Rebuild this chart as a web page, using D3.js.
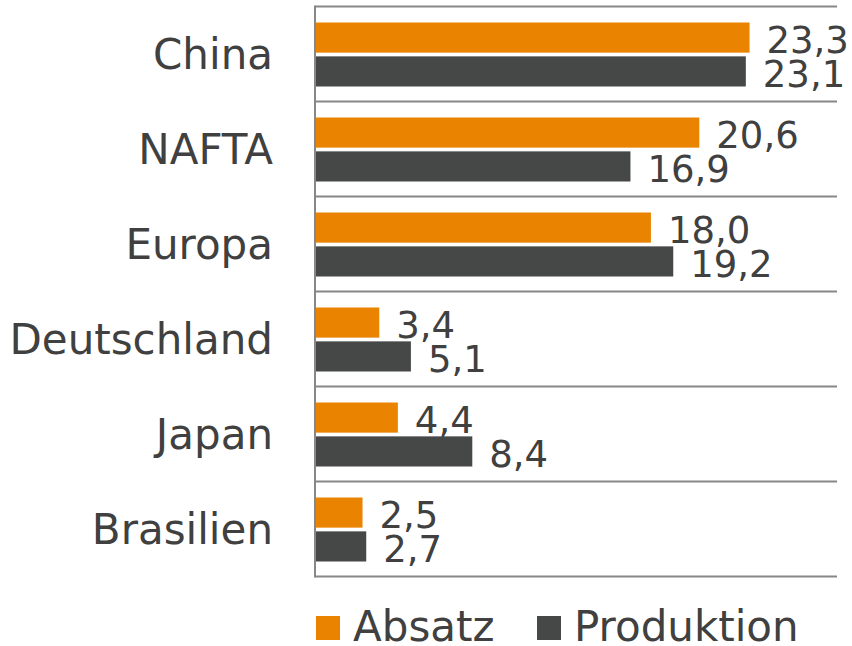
<!DOCTYPE html>
<html>
<head>
<meta charset="utf-8">
<script src="https://cdn.jsdelivr.net/npm/d3@7"></script>
<style>
  body { margin: 0; background: #fff; }
  svg { display: block; font-family: "DejaVu Sans", Verdana, sans-serif; }
</style>
</head>
<body>
<svg id="chart" width="852" height="646"></svg>
<script>
// data
var regions = ["China", "NAFTA", "Europa", "Deutschland", "Japan", "Brasilien"];
var seriesNames = ["Absatz", "Produktion"];
var absatz = [23.3, 20.6, 18.0, 3.4, 4.4, 2.5];
var produktion = [23.1, 16.9, 19.2, 5.1, 8.4, 2.7];

var colors = { Absatz: "#e98300", Produktion: "#464847" };
var textColor = "#404040";
var gridColor = "#878787";

var rows = regions.map(function (r, i) {
  return { region: r, values: [
    { key: "Absatz", value: absatz[i] },
    { key: "Produktion", value: produktion[i] }
  ] };
});

var svg = d3.select("#chart");

var x = d3.scaleLinear().domain([0, 28]).range([316, 837]);
var y0 = d3.scaleBand().domain(regions).range([6.5, 576.5]);
var y1 = d3.scaleBand().domain(seriesNames).range([16, 80]).paddingInner(0.11);

var fmt = function (v) { return d3.format(".1f")(v).replace(".", ","); };

// gridlines between categories
var gridY = regions.map(function (r) { return y0(r); }).concat([y0.range()[1]]);
svg.append("g")
  .selectAll("line")
  .data(gridY)
  .enter()
  .append("line")
  .attr("x1", 315)
  .attr("x2", x.range()[1])
  .attr("y1", function (d) { return d; })
  .attr("y2", function (d) { return d; })
  .style("stroke", gridColor)
  .style("stroke-width", "2px");

// vertical axis line
svg.append("line")
  .attr("x1", 315).attr("x2", 315)
  .attr("y1", y0.range()[0] - 1).attr("y2", y0.range()[1] + 1)
  .style("stroke", gridColor)
  .style("stroke-width", "2px");

// category labels
svg.append("g")
  .selectAll("text")
  .data(regions)
  .enter()
  .append("text")
  .attr("x", 273)
  .attr("y", function (d) { return y0(d) + y0.bandwidth() / 2; })
  .attr("dy", "0.36em")
  .attr("text-anchor", "end")
  .style("font-size", "42px")
  .style("fill", textColor)
  .text(function (d) { return d; });

var group = svg.append("g")
  .selectAll("g")
  .data(rows)
  .enter()
  .append("g")
  .attr("transform", function (d) { return "translate(0," + y0(d.region) + ")"; });

group.selectAll("rect")
  .data(function (d) { return d.values; })
  .enter()
  .append("rect")
  .attr("x", x(0))
  .attr("y", function (d) { return y1(d.key); })
  .attr("width", function (d) { return x(d.value) - x(0); })
  .attr("height", y1.bandwidth())
  .style("fill", function (d) { return colors[d.key]; });

group.selectAll("text")
  .data(function (d) { return d.values; })
  .enter()
  .append("text")
  .attr("x", function (d) { return x(d.value) + 17; })
  .attr("y", function (d) { return y1(d.key) + y1.bandwidth() / 2 + 2; })
  .attr("dy", "0.36em")
  .style("font-size", "37px")
  .style("fill", textColor)
  .text(function (d) { return fmt(d.value); });

// legend
var legendX = [316, 537];
var legend = svg.append("g")
  .selectAll("g")
  .data(seriesNames)
  .enter()
  .append("g")
  .attr("transform", function (d, i) { return "translate(" + legendX[i] + ",616)"; });

legend.append("rect")
  .attr("width", 24)
  .attr("height", 24)
  .style("fill", function (d) { return colors[d]; });

legend.append("text")
  .attr("x", 37)
  .attr("y", 25)
  .style("font-size", "42px")
  .style("fill", textColor)
  .text(function (d) { return d; });
</script>
</body>
</html>
